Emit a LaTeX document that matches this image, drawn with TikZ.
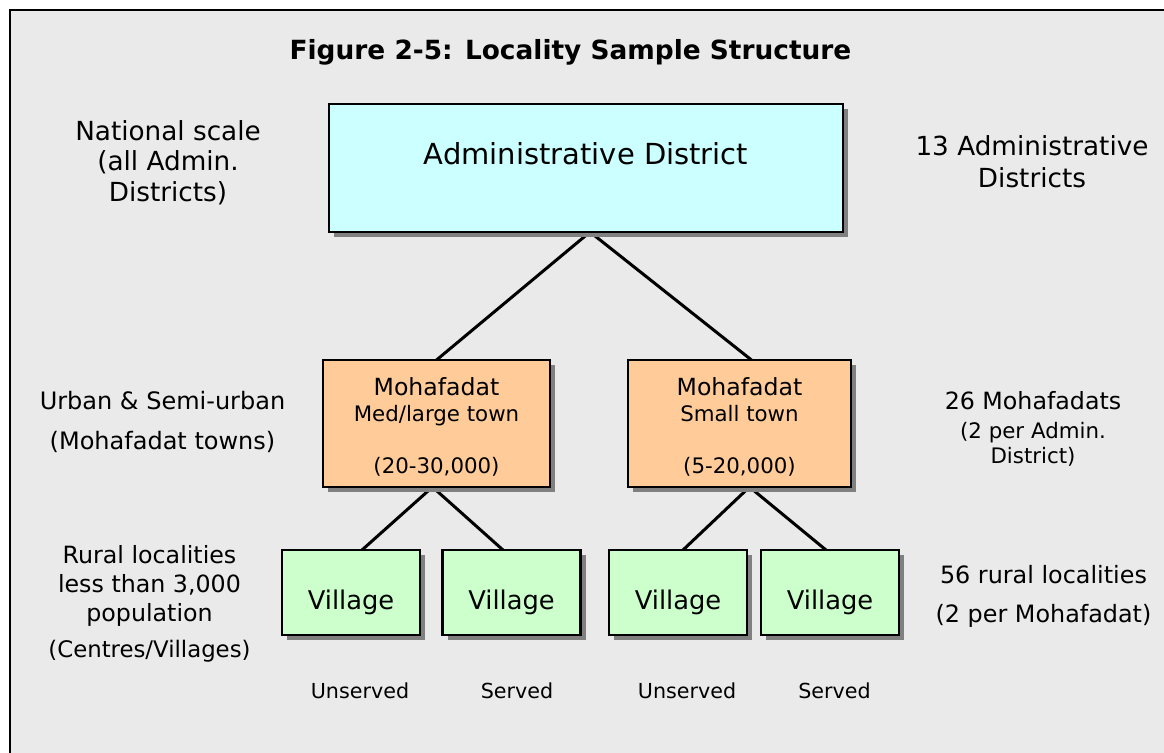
\documentclass[tikz,border=0pt]{standalone}
\usepackage{fontspec}
\setmainfont{DejaVu Sans}
\usetikzlibrary{calc,shadows}
\definecolor{bggray}{HTML}{EAEAEA}
\definecolor{admfill}{HTML}{CCFFFF}
\definecolor{mohfill}{HTML}{FFCC99}
\definecolor{vilfill}{HTML}{CCFFCC}
\definecolor{shadowgray}{HTML}{808080}
\pgfdeclarelayer{back}
\pgfdeclarelayer{lines}
\pgfsetlayers{back,lines,main}
\begin{document}
\begin{tikzpicture}[x=0.75pt,y=-0.75pt,
  box/.style={draw=black, line width=1.6pt, inner sep=0pt, outer sep=0pt,
    drop shadow={shadow xshift=3.75pt, shadow yshift=-3.75pt, fill=shadowgray, opacity=1}},
  admbox/.style={box, fill=admfill, minimum width=385.5pt, minimum height=96pt,
    font=\fontsize{21.75pt}{26pt}\selectfont, text height=0pt, text depth=6pt},
  mohbox/.style={box, fill=mohfill, minimum height=95.25pt,
    font=\fontsize{16pt}{19.5pt}\selectfont, text height=0pt, text depth=42.75pt},
  vilbox/.style={box, fill=vilfill, minimum width=103.5pt, minimum height=63.75pt,
    font=\fontsize{19.3pt}{23pt}\selectfont, text height=24.75pt, text depth=0pt},
  lab/.style={anchor=base, inner sep=0pt},
  conn/.style={draw=black, line width=2.25pt},
  frameline/.style={draw=black, line width=1.5pt}
]
\useasboundingbox (0,0) rectangle (1164,753);

% title
\node[lab, font=\bfseries\fontsize{19.8pt}{24pt}\selectfont] (title) at (570.5,59)
  {Figure 2-5: Locality Sample Structure};

% boxes
\node[admbox] (adm) at (586,168) {Administrative District};

\node[mohbox, minimum width=170.25pt] (m1) at (436.5,423.5)
  {\begin{tabular}[t]{@{}c@{}}{\fontsize{17.7pt}{19.5pt}\selectfont Mohafadat}\\ Med/large town\\ \\ (20-30,000)\end{tabular}};
\node[mohbox, minimum width=167.25pt] (m2) at (739.5,423.5)
  {\begin{tabular}[t]{@{}c@{}}{\fontsize{17.7pt}{19.5pt}\selectfont Mohafadat}\\ Small town\\ \\ (5-20,000)\end{tabular}};

\node[vilbox] (v1) at (351,592.5) {Village};
\node[vilbox] (v2) at (511.5,592.5) {Village};
\node[vilbox] (v3) at (678,592.5) {Village};
\node[vilbox] (v4) at (830,592.5) {Village};

% left labels
\node[lab, font=\fontsize{19.7pt}{22.9pt}\selectfont] (lnat) at (168,140)
  {\begin{tabular}[t]{@{}c@{}}National scale\\ (all Admin.\\ Districts)\end{tabular}};
\node[lab, font=\fontsize{18pt}{30pt}\selectfont] (lurb) at (162.5,409)
  {\begin{tabular}[t]{@{}c@{}}Urban \& Semi-urban\\ (Mohafadat towns)\end{tabular}};
\node[lab, font=\fontsize{17.8pt}{21.75pt}\selectfont] (lrur) at (149.5,563)
  {\begin{tabular}[t]{@{}c@{}}Rural localities\\ less than 3,000\\ population\\[5.25pt] {\fontsize{17.1pt}{21.75pt}\selectfont (Centres/Villages)}\end{tabular}};

% right labels
\node[lab, font=\fontsize{19.7pt}{24pt}\selectfont] (rnat) at (1032,155)
  {\begin{tabular}[t]{@{}c@{}}13 Administrative\\ Districts\end{tabular}};
\node[lab, font=\fontsize{16pt}{18.75pt}\selectfont] (rurb) at (1033,409)
  {\begin{tabular}[t]{@{}c@{}}{\fontsize{17.8pt}{18.75pt}\selectfont 26 Mohafadats}\\[3pt] (2 per Admin.\\ District)\end{tabular}};
\node[lab, font=\fontsize{17.9pt}{29.25pt}\selectfont] (rrur) at (1043.5,583)
  {\begin{tabular}[t]{@{}c@{}}56 rural localities\\ (2 per Mohafadat)\end{tabular}};

% bottom labels
\node[lab, font=\fontsize{15.5pt}{18pt}\selectfont] (u1) at (360,698) {Unserved};
\node[lab, font=\fontsize{15.5pt}{18pt}\selectfont] (s1) at (517,698) {Served};
\node[lab, font=\fontsize{15.5pt}{18pt}\selectfont] (u2) at (687,698) {Unserved};
\node[lab, font=\fontsize{15.5pt}{18pt}\selectfont] (s2) at (834.5,698) {Served};

% connectors
\begin{pgfonlayer}{lines}
\draw[conn] ($(adm.south)+(4,0)$) -- (m1.north);
\draw[conn] ($(adm.south)+(4,0)$) -- ($(m2.north)+(12,0)$);
\draw[conn] ($(m1.south)+(-4,0)$) -- ($(v1.north)+(11,0)$);
\draw[conn] ($(m1.south)+(-4,0)$) -- ($(v2.north)+(-8.5,0)$);
\draw[conn] ($(m2.south)+(10,0)$) -- ($(v3.north)+(5,0)$);
\draw[conn] ($(m2.south)+(10,0)$) -- ($(v4.north)+(-4,0)$);
\end{pgfonlayer}

% background and frame
\begin{pgfonlayer}{back}
\fill[white] (0,0) rectangle (1164,753);
\fill[bggray] (10,10) rectangle (1164,753);
\draw[frameline] (10,753) -- (10,10) -- (1164,10);
\end{pgfonlayer}
\end{tikzpicture}
\end{document}
